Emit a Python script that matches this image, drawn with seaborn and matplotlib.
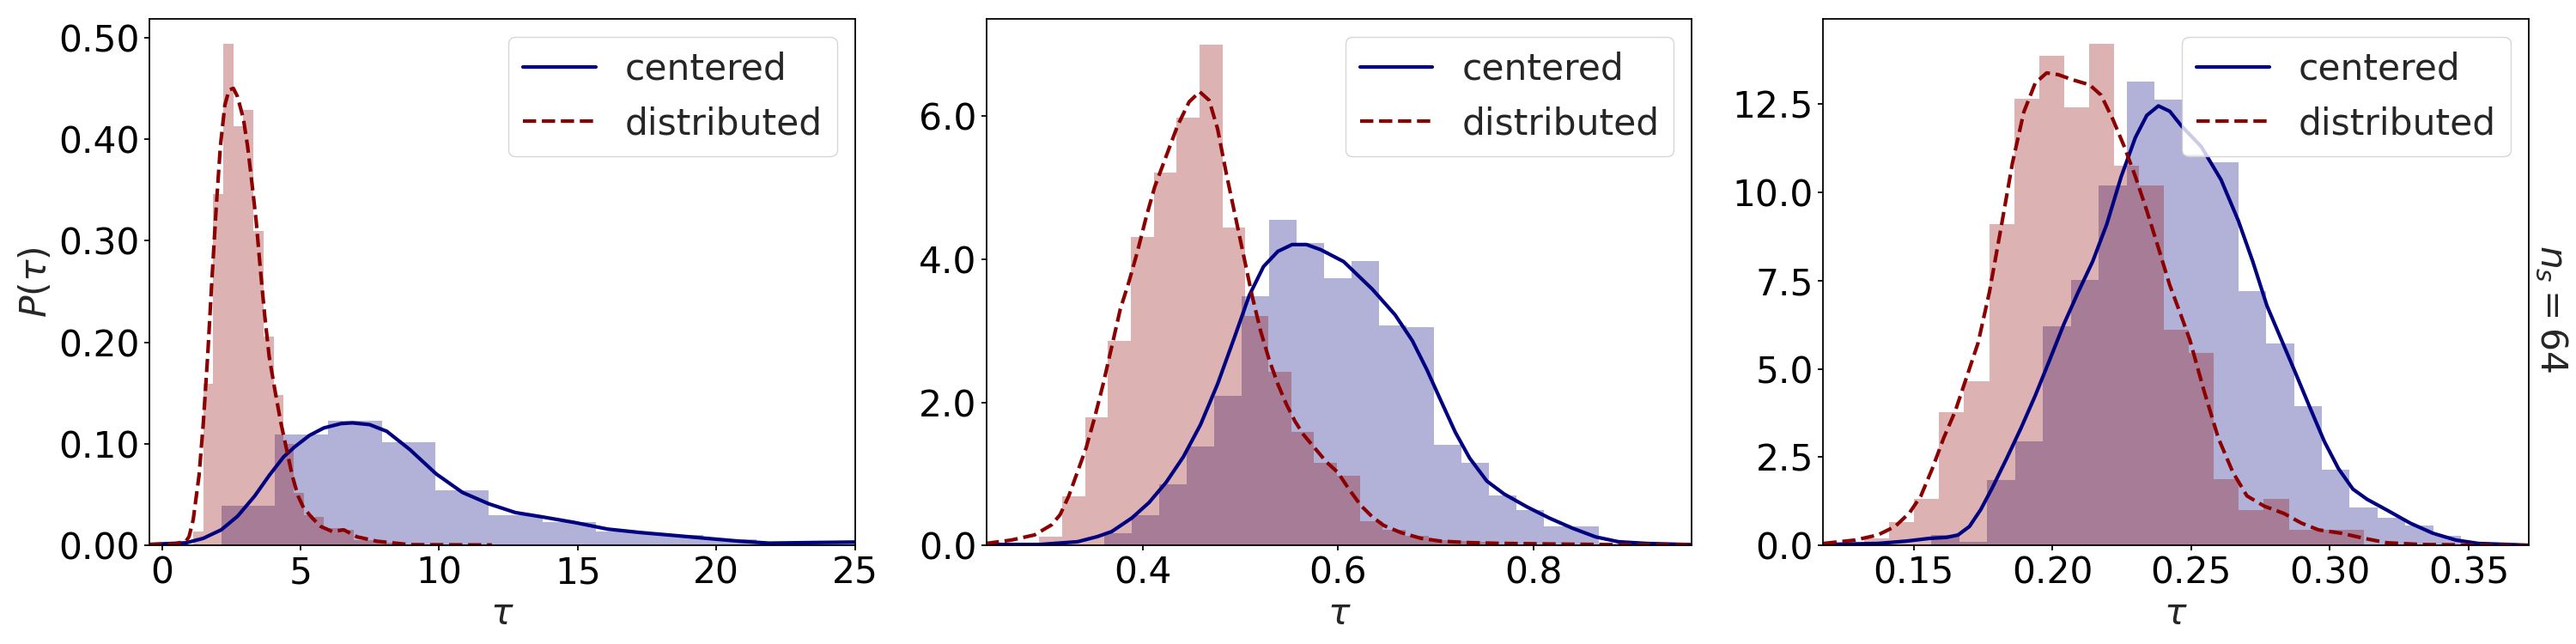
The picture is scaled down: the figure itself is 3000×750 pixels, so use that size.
import numpy as np
import pandas as pd
import matplotlib
matplotlib.use("Agg")
import matplotlib.pyplot as plt
from matplotlib.ticker import FormatStrFormatter
import seaborn as sns

# ---- panel 1 ----
c1_start, c1_width = 2.14, 1.93
c1_heights = [0.039, 0.109, 0.123, 0.102, 0.054, 0.030, 0.023, 0.014, 0.010, 0.006, 0.003, 0.003]
d1_start, d1_width = 1.13, 0.362
d1_heights = [0.014, 0.159, 0.346, 0.494, 0.413, 0.429, 0.310, 0.206, 0.148, 0.100, 0.052,
              0.030, 0.028, 0.017, 0.017, 0.0155, 0.005, 0.005, 0.004, 0.003, 0.002]
c1_kde_x = [-0.47, 0.87, 1.49, 2.14, 2.73, 3.35, 3.87, 4.39, 4.80, 5.32, 5.84, 6.46, 6.87, 7.49,
            8.11, 8.94, 9.89, 10.84, 11.80, 12.75, 13.70, 14.89, 16.08, 17.27, 18.46, 19.65,
            20.84, 21.91, 23.22, 25.1]
c1_kde_y = [0.001, 0.0026, 0.007, 0.0154, 0.0288, 0.0488, 0.0689, 0.0872, 0.0973, 0.1083, 0.1157,
            0.120, 0.1207, 0.119, 0.1124, 0.0945, 0.0705, 0.0522, 0.0409, 0.0324, 0.0282, 0.0226,
            0.0161, 0.0127, 0.0099, 0.0070, 0.0042, 0.0023, 0.0028, 0.0034]
d1_kde_x = [-0.47, 0.46, 0.87, 0.98, 1.13, 1.34, 1.49, 1.65, 1.80, 1.96, 2.11, 2.27, 2.42, 2.58,
            2.73, 2.94, 3.09, 3.25, 3.40, 3.56, 3.71, 3.87, 4.08, 4.28, 4.49, 4.70, 4.91, 5.11,
            5.42, 5.73, 6.15, 6.56, 7.04, 7.75, 8.94, 11.9]
d1_kde_y = [0.001, 0.0015, 0.0043, 0.0087, 0.0254, 0.0689, 0.119, 0.1859, 0.2595, 0.333, 0.3932,
            0.4333, 0.4484, 0.450, 0.4417, 0.420, 0.3932, 0.3564, 0.3196, 0.2695, 0.2261, 0.1859,
            0.1524, 0.1223, 0.0956, 0.0689, 0.0488, 0.0371, 0.0271, 0.0187, 0.0137, 0.0154,
            0.0085, 0.0042, 0.0008, 0.0005]

# ---- panel 2 ----
c2_start, c2_width = 0.361, 0.02812
c2_heights = [0.17, 0.42, 0.85, 1.38, 2.09, 3.48, 4.545, 4.23, 3.73, 3.97, 3.08, 3.05, 1.41,
              1.16, 0.70, 0.49, 0.27, 0.27, 0.03, 0.05]
d2_start, d2_width = 0.2943, 0.02343
d2_heights = [0.125, 0.683, 1.793, 2.861, 4.313, 5.21, 5.98, 7.00, 4.44, 3.21, 2.43, 1.585,
              1.157, 0.98, 0.34, 0.22, 0.14, 0.08, 0.06, 0.05]
c2_kde_x = [0.2395, 0.2952, 0.3332, 0.3537, 0.3684, 0.3889, 0.4064, 0.424, 0.4416, 0.4592,
            0.4767, 0.4943, 0.509, 0.5236, 0.5383, 0.5529, 0.5676, 0.5822, 0.6056, 0.6349,
            0.6583, 0.6759, 0.6906, 0.7052, 0.7199, 0.7345, 0.7521, 0.7697, 0.7931, 0.8165,
            0.8400, 0.8634, 0.8868, 0.916, 0.960]
c2_kde_y = [0.014, 0.014, 0.052, 0.124, 0.195, 0.384, 0.598, 0.882, 1.238, 1.689, 2.258, 2.923,
            3.492, 3.896, 4.109, 4.204, 4.204, 4.132, 3.966, 3.581, 3.221, 2.861, 2.461, 2.02,
            1.581, 1.221, 0.90, 0.72, 0.54, 0.38, 0.24, 0.12, 0.052, 0.028, 0.012]
d2_kde_x = [0.2395, 0.2658, 0.2893, 0.3069, 0.3156, 0.3244, 0.3332, 0.3420, 0.3508, 0.3596,
            0.3684, 0.3771, 0.3859, 0.3947, 0.4035, 0.4123, 0.4240, 0.4357, 0.4475, 0.4583,
            0.4680, 0.4767, 0.4855, 0.4943, 0.5031, 0.5119, 0.5207, 0.5295, 0.5382, 0.5470,
            0.5558, 0.5646, 0.5763, 0.5880, 0.5997, 0.6114, 0.6231, 0.6349, 0.6466, 0.6642,
            0.6847, 0.7052, 0.7344, 0.7637, 0.8223, 0.8809, 0.96]
d2_kde_y = [0.028, 0.076, 0.147, 0.289, 0.432, 0.692, 1.025, 1.357, 1.784, 2.258, 2.781, 3.302,
            3.682, 4.109, 4.583, 5.01, 5.438, 5.865, 6.197, 6.339, 6.22, 5.817, 5.20, 4.631,
            4.062, 3.492, 2.994, 2.591, 2.258, 1.974, 1.736, 1.547, 1.357, 1.167, 1.02, 0.78,
            0.56, 0.40, 0.28, 0.18, 0.10, 0.06, 0.04, 0.03, 0.02, 0.012, 0.01]

# ---- panel 3 ----
c3_start, c3_width = 0.1564, 0.01005
c3_heights = [0.30, 0.10, 1.866, 2.96, 6.215, 7.514, 10.19, 13.14, 12.64, 11.07, 10.85, 7.20,
              5.715, 3.935, 2.154, 1.086, 0.78, 0.567, 0.278, 0.06]
d3_start, d3_width = 0.1322, 0.0090
d3_heights = [0.20, 0.66, 1.33, 3.78, 4.66, 9.10, 12.66, 13.86, 12.42, 14.20, 10.76, 10.19,
              6.10, 5.445, 1.885, 1.0, 1.33, 0.44, 0.44, 0.44]
c3_kde_x = [0.1175, 0.1371, 0.1474, 0.1557, 0.1619, 0.1660, 0.1701, 0.1742, 0.1784, 0.1835,
            0.1887, 0.1938, 0.1990, 0.2041, 0.2093, 0.2145, 0.2196, 0.2248, 0.2299, 0.2340,
            0.2382, 0.2423, 0.2464, 0.2536, 0.2608, 0.2670, 0.2722, 0.2773, 0.2825, 0.2877,
            0.2928, 0.2980, 0.3031, 0.3083, 0.3134, 0.3206, 0.3289, 0.3371, 0.3454, 0.3536,
            0.3712]
c3_kde_y = [0.028, 0.057, 0.124, 0.201, 0.230, 0.297, 0.538, 1.02, 1.644, 2.462, 3.328, 4.242,
            5.253, 6.263, 7.177, 8.043, 9.101, 10.449, 11.555, 12.181, 12.45, 12.296, 11.892,
            11.3, 10.353, 9.198, 8.043, 6.792, 5.830, 4.868, 3.906, 2.944, 2.174, 1.596, 1.308,
            1.0, 0.634, 0.346, 0.153, 0.057, 0.009]
d3_kde_x = [0.1175, 0.1289, 0.1371, 0.1433, 0.1485, 0.1526, 0.1567, 0.1608, 0.1650, 0.1691,
            0.1732, 0.1773, 0.1815, 0.1856, 0.1897, 0.1938, 0.1979, 0.2021, 0.2072, 0.2134,
            0.2175, 0.2217, 0.2258, 0.2299, 0.2340, 0.2382, 0.2423, 0.2464, 0.2495, 0.2546,
            0.2598, 0.2650, 0.2701, 0.2763, 0.2835, 0.2897, 0.2959, 0.3042, 0.3124, 0.3206,
            0.3330, 0.3712]
d3_kde_y = [0.057, 0.153, 0.297, 0.538, 0.923, 1.404, 2.174, 3.04, 3.809, 4.771, 5.734, 7.177,
            9.005, 10.834, 12.277, 13.095, 13.383, 13.335, 13.191, 13.047, 12.758, 12.084,
            11.315, 10.449, 9.486, 8.428, 7.37, 6.504, 5.83, 4.387, 3.04, 2.078, 1.404, 1.115,
            0.904, 0.634, 0.442, 0.346, 0.201, 0.076, 0.028, 0.0]

panels = [
    dict(c=(c1_start, c1_width, c1_heights), d=(d1_start, d1_width, d1_heights),
         ck=(c1_kde_x, c1_kde_y), dk=(d1_kde_x, d1_kde_y),
         xlim=(-0.45, 25), ylim=(0, 0.5186), xticks=[0, 5, 10, 15, 20, 25],
         yticks=[0, 0.1, 0.2, 0.3, 0.4, 0.5], xfmt=None, yfmt="%.2f"),
    dict(c=(c2_start, c2_width, c2_heights), d=(d2_start, d2_width, d2_heights),
         ck=(c2_kde_x, c2_kde_y), dk=(d2_kde_x, d2_kde_y),
         xlim=(0.240, 0.962), ylim=(0, 7.36), xticks=[0.4, 0.6, 0.8],
         yticks=[0, 2, 4, 6], xfmt="%.1f", yfmt="%.1f"),
    dict(c=(c3_start, c3_width, c3_heights), d=(d3_start, d3_width, d3_heights),
         ck=(c3_kde_x, c3_kde_y), dk=(d3_kde_x, d3_kde_y),
         xlim=(0.1174, 0.3717), ylim=(0, 14.92), xticks=[0.15, 0.20, 0.25, 0.30, 0.35],
         yticks=[0, 2.5, 5, 7.5, 10, 12.5], xfmt="%.2f", yfmt="%.1f"),
]

sns.set_style("ticks", {"axes.edgecolor": "black", "xtick.color": "black",
                        "ytick.color": "black"})
plt.rcParams["font.family"] = ["DejaVu Sans"]
plt.rcParams["axes.linewidth"] = 1.3
plt.rcParams["xtick.major.size"] = 4.5
plt.rcParams["ytick.major.size"] = 4.5
plt.rcParams["xtick.major.width"] = 1.3
plt.rcParams["ytick.major.width"] = 1.3
FS = 30.5
LW = 3.0

fig, axes = plt.subplots(1, 3, figsize=(30, 7.5), dpi=100)
fig.subplots_adjust(left=0.058, right=0.9817, bottom=0.153, top=0.971, wspace=0.186)


def draw_hist(ax, start, width, heights, color):
    n = len(heights)
    edges = start + width * np.arange(n + 1)
    df = pd.DataFrame({"tau": (edges[:-1] + edges[1:]) / 2, "p": heights})
    sns.histplot(data=df, x="tau", weights="p", binwidth=width,
                 binrange=(start, start + width * n), stat="count", color=color,
                 alpha=0.3, linewidth=0, ax=ax)


for ax, p in zip(axes, panels):
    draw_hist(ax, *p["c"], color="navy")
    draw_hist(ax, *p["d"], color="darkred")
    sns.lineplot(x=p["ck"][0], y=p["ck"][1], color="navy", lw=LW, label="centered", ax=ax)
    sns.lineplot(x=p["dk"][0], y=p["dk"][1], color="darkred", lw=LW, linestyle="--",
                 label="distributed", ax=ax)
    ax.set_xlim(*p["xlim"])
    ax.set_ylim(*p["ylim"])
    ax.set_xticks(p["xticks"])
    ax.set_yticks(p["yticks"])
    if p["xfmt"]:
        ax.xaxis.set_major_formatter(FormatStrFormatter(p["xfmt"]))
    ax.yaxis.set_major_formatter(FormatStrFormatter(p["yfmt"]))
    ax.tick_params(labelsize=FS)
    ax.set_xlabel(r"$\tau$", fontsize=FS)
    ax.set_ylabel("")
    for s in ax.spines.values():
        s.set_visible(True)
    ax.legend(loc="upper right", fontsize=FS)

axes[0].set_ylabel(r"$P(\tau)$", fontsize=FS)
axes[2].text(1.006, 0.45, r"$n_s = 64$", transform=axes[2].transAxes, rotation=270,
             ha="left", va="center", fontsize=FS)

fig.savefig("out.png", dpi=100)
